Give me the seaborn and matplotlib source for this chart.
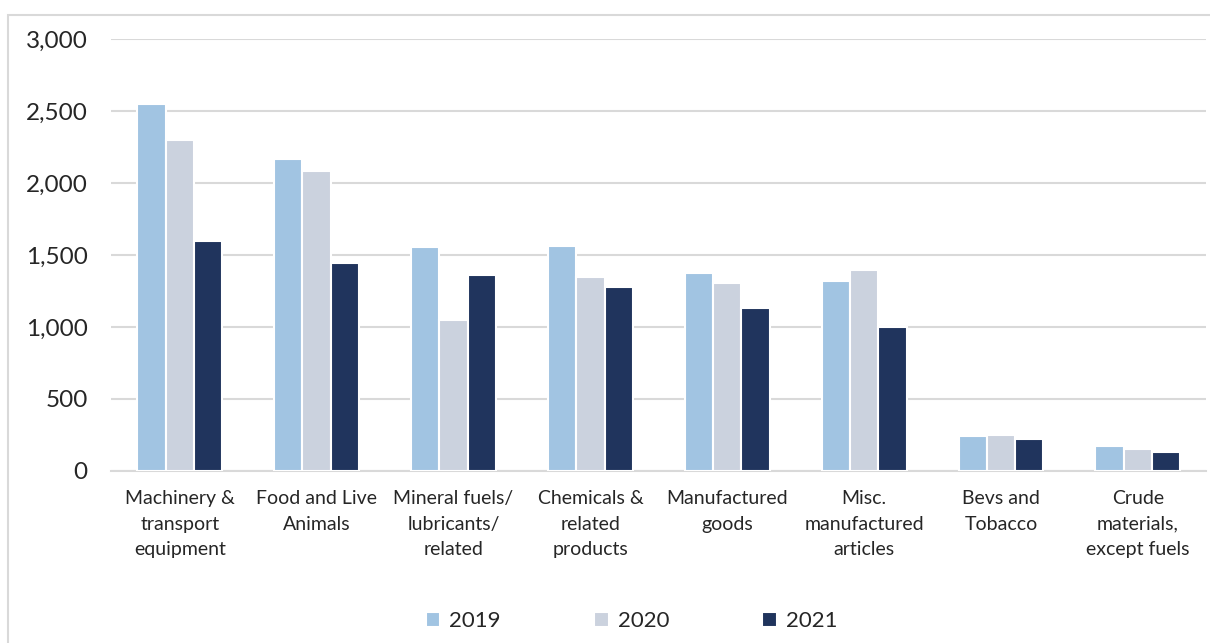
import numpy as np
import pandas as pd
import seaborn as sns
from matplotlib import pyplot as plt
from matplotlib.patches import Rectangle
from matplotlib.ticker import FuncFormatter

# Values
categories = ['Machinery &\ntransport\nequipment', 'Food and Live\nAnimals', 'Mineral fuels/\nlubricants/\nrelated',
              'Chemicals &\nrelated\nproducts', 'Manufactured\ngoods', 'Misc.\nmanufactured\narticles',
              'Bevs and\nTobacco', 'Crude\nmaterials,\nexcept fuels']
years = ['2019', '2020', '2021']
values_2019 = [2550, 2165, 1555, 1560, 1375, 1320, 245, 175]
values_2020 = [2295, 2085, 1050, 1345, 1305, 1395, 250, 155]
values_2021 = [1600, 1445, 1360, 1280, 1135, 1000, 225, 130]
colors = ['#A1C4E2', '#CBD2DE', '#20345D']

df = pd.DataFrame({
    'category': categories * 3,
    'year': np.repeat(years, len(categories)),
    'value': values_2019 + values_2020 + values_2021,
})

sns.set_style('white')
plt.rcParams['font.family'] = ['Lato', 'DejaVu Sans']

fig = plt.figure(figsize=(12.1, 6.43), dpi=100)
ax = fig.add_axes([0.092, 0.2675, 0.905, 0.672])

sns.barplot(data=df, x='category', y='value', hue='year', palette=colors, saturation=1, width=0.62,
            edgecolor='white', linewidth=1.5, ax=ax, zorder=3)

ax.set_ylim(0, 3000)
ax.set_yticks(range(0, 3001, 500))
ax.yaxis.set_major_formatter(FuncFormatter(lambda v, p: f'{int(v):,}'))
ax.grid(axis='y', color='#D9D9D9', linewidth=1.5, zorder=0)
ax.set_axisbelow(True)
for s in ['top', 'right', 'left']:
    ax.spines[s].set_visible(False)
ax.spines['bottom'].set_color('#D9D9D9')
ax.spines['bottom'].set_linewidth(1.5)
ax.tick_params(axis='both', length=0)
ax.tick_params(axis='y', labelsize=17.5, pad=17)
ax.tick_params(axis='x', labelsize=14, pad=14)
for lbl in ax.get_xticklabels():
    lbl.set_linespacing(1.6)
ax.set_xlabel('')
ax.set_ylabel('')

leg = ax.legend(loc='center', ncol=3, frameon=False, fontsize=16,
                handlelength=0.65, handleheight=0.65, columnspacing=4.2, handletextpad=0.4)
leg.set_bbox_to_anchor((0.522, 1 - 621 / 643), transform=fig.transFigure)

# light chart border
fig.patches.append(Rectangle((8 / 1210, -0.1), 1.1, 1.1 - 15 / 643, transform=fig.transFigure,
                             fill=False, edgecolor='#D9D9D9', linewidth=1.5, clip_on=False))

plt.savefig('out.png', dpi=100)
